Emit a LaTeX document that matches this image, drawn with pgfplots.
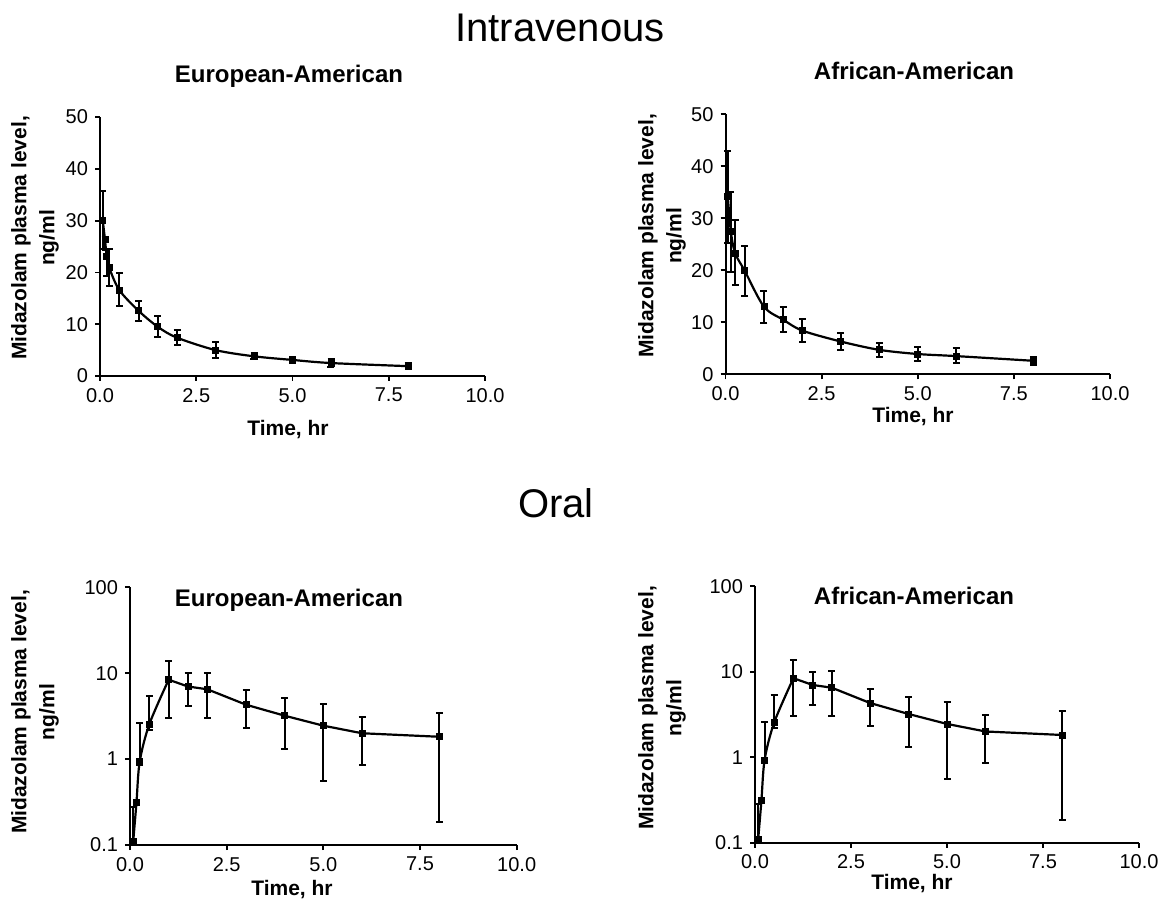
\documentclass[border=0pt]{standalone}
\usepackage{fontspec}
\setmainfont{Liberation Sans}
\usepackage{pgfplots}
\usepackage{pgfplotstable}
\pgfplotsset{compat=1.18}

% IV, European-American: t, mean, error up, error down
\pgfplotstableread{
t     y     ep   em
0.07  30.1  5.6  5.6
0.13  26.3  0.6  2.0
0.175 23.0  1.5  3.6
0.24  20.9  3.6  3.6
0.5   16.6  3.3  3.1
1     12.6  1.9  1.9
1.5   9.5   2.0  2.0
2     7.4   1.5  1.4
3     5.0   1.5  1.5
4     3.8   0.6  0.6
5     3.1   0.5  0.5
6     2.5   0.8  0.8
8     1.9   0.7  0.6
}\ivEA
% IV, African-American
\pgfplotstableread{
t     y     ep   em
0.06  34.2  8.8  9.0
0.14  27.4  7.7  7.7
0.25  23.3  6.4  6.1
0.5   19.9  4.8  4.8
1     13.0  3.0  3.1
1.5   10.5  2.5  2.3
2     8.4   2.2  2.2
3     6.3   1.7  1.6
4     4.7   1.3  1.3
5     3.9   1.4  1.3
6     3.5   1.5  1.4
8     2.6   0.8  0.8
}\ivAA
% oral (both panels read the same)
\pgfplotstableread{
t     y     ep    em
0.083 0.11  0.17  0.01
0.167 0.31  0.0   0.0
0.25  0.93  1.67  0.08
0.5   2.55  2.85  0.35
1     8.4   5.3   5.4
1.5   7.0   3.0   2.9
2     6.5   3.6   3.5
3     4.3   2.0   2.0
4     3.2   1.9   1.9
5     2.45  1.95  1.9
6     2.0   1.1   1.14
8     1.82  1.63  1.635
}\oral

\pgfplotsset{
  pk/.style={
    scale only axis, anchor=south west,
    axis lines=left, axis line style={-, line width=1pt},
    tick align=outside, major tick length=2.5pt,
    tick style={line width=0.9pt, black},
    xmin=0, xmax=10, xtick={0,2.5,5,7.5,10},
    xticklabel style={/pgf/number format/fixed, /pgf/number format/fixed zerofill, /pgf/number format/precision=1},
    tick label style={font=\fontsize{10}{11}\selectfont},
    clip=false,
  },
  iv/.style={pk, ymin=0, ymax=50, ytick={0,10,...,50}},
  po/.style={pk, ymin=0.1, ymax=100, ytick={0.1,1,10,100},
    yticklabels={0.1,1,10,100}, minor y tick style={draw=none}},
  crv/.style={black, line width=1.1pt, mark=none},
  pts/.style={black, only marks, mark=square*, mark size=1.5pt,
    error bars/.cd, y dir=both, y explicit,
    error bar style={line width=1pt, black},
    error mark options={rotate=90, black, mark size=1.75pt, line width=1pt}},
}
\tikzset{
  ttl/.style={font=\fontsize{20}{24}\selectfont, anchor=base},
  sub/.style={font=\fontsize{12}{14}\selectfont\bfseries, anchor=base},
  xl/.style={font=\fontsize{10.5}{12}\selectfont\bfseries, anchor=base},
  yl/.style={font=\fontsize{10.5}{14}\selectfont\bfseries, rotate=90, align=center},
}

\begin{document}
\begin{tikzpicture}[x=0.5pt, y=0.5pt]
\useasboundingbox (0,0) rectangle (1158,907);
\coordinate (pTL) at (100,531);
\coordinate (pTR) at (725.5,532.7);
\coordinate (pBL) at (130,62);
\coordinate (pBR) at (755,64.3);

\node[ttl] at (560,865) {Intravenous};
\node[ttl] at (556,390) {Oral};

% ---- IV European-American
\node[sub] at (289,824) {European-American};
\begin{axis}[iv, /pgf/number format/assume math mode=true,
  at={(pTL)}, width=192.5pt, height=129.5pt]
\addplot[crv, smooth] table[x=t, y=y] {\ivEA};
\addplot[pts] table[x=t, y=y, y error plus=ep, y error minus=em] {\ivEA};
\end{axis}
\node[xl] at (288,472) {Time, hr};
\node[yl] at (35,669) {Midazolam plasma level,\\ng/ml};

% ---- IV African-American
\node[sub] at (914,827) {African-American};
\begin{axis}[iv, /pgf/number format/assume math mode=true,
  at={(pTR)}, width=192.25pt, height=130pt]
\addplot[crv, smooth] table[x=t, y=y] {\ivAA};
\addplot[pts] table[x=t, y=y, y error plus=ep, y error minus=em] {\ivAA};
\end{axis}
\node[xl] at (913,485) {Time, hr};
\node[yl] at (662,671) {Midazolam plasma level,\\ng/ml};

% ---- oral European-American
\node[sub] at (289,301) {European-American};
\begin{axis}[ymode=log, po, /pgf/number format/assume math mode=true,
  at={(pBL)}, width=193.35pt, height=128.85pt]
\addplot[crv, smooth] coordinates {(0.083,0.11) (0.167,0.31) (0.25,0.93) (0.5,2.55) (1,8.4)};
\addplot[crv] coordinates {(1,8.4) (1.5,7.0) (2,6.5) (3,4.3) (4,3.2) (5,2.45) (6,2.0) (8,1.82)};
\addplot[pts] table[x=t, y=y, y error plus=ep, y error minus=em] {\oral};
\end{axis}
\node[xl] at (292,12) {Time, hr};
\node[yl] at (35,195) {Midazolam plasma level,\\ng/ml};

% ---- oral African-American
\node[sub] at (914,303) {African-American};
\begin{axis}[ymode=log, po, /pgf/number format/assume math mode=true,
  at={(pBR)}, width=192pt, height=128.25pt]
\addplot[crv, smooth] coordinates {(0.083,0.11) (0.167,0.31) (0.25,0.93) (0.5,2.55) (1,8.4)};
\addplot[crv] coordinates {(1,8.4) (1.5,7.0) (2,6.5) (3,4.3) (4,3.2) (5,2.45) (6,2.0) (8,1.82)};
\addplot[pts] table[x=t, y=y, y error plus=ep, y error minus=em] {\oral};
\end{axis}
\node[xl] at (912,18) {Time, hr};
\node[yl] at (662,199) {Midazolam plasma level,\\ng/ml};
\end{tikzpicture}
\end{document}
